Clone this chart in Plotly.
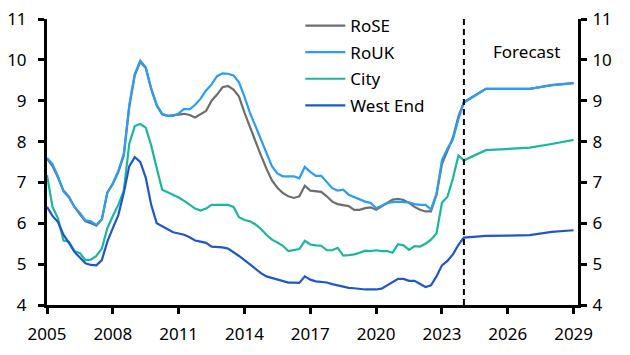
import plotly.graph_objects as go

# ---- Data (quarterly history 2005Q1..2024Q1, then annual forecast) ----
hist_start = 2005.0
n_hist = 77
hist_dates = [hist_start + 0.25 * i for i in range(n_hist)]
forecast_years = [2025, 2026, 2027, 2028, 2029]

rose_hist = [7.58, 7.40, 7.12, 6.80, 6.65, 6.40, 6.22, 6.05, 6.00, 5.94, 6.10, 6.75,
             6.96, 7.25, 7.66, 8.85, 9.62, 9.95, 9.80, 9.28, 8.88, 8.66, 8.63, 8.64,
             8.66, 8.68, 8.65, 8.59, 8.66, 8.75, 9.00, 9.15, 9.33, 9.36, 9.27, 9.10,
             8.71, 8.35, 7.98, 7.66, 7.34, 7.05, 6.87, 6.74, 6.66, 6.62, 6.66, 6.92,
             6.80, 6.79, 6.77, 6.66, 6.53, 6.47, 6.44, 6.42, 6.33, 6.33, 6.37, 6.39,
             6.33, 6.42, 6.51, 6.58, 6.60, 6.57, 6.50, 6.40, 6.33, 6.29, 6.29, 6.70,
             7.45, 7.80, 8.10, 8.62, 8.97]
rose_fc = [9.29, 9.29, 9.29, 9.38, 9.43]

rouk_hist = [7.60, 7.45, 7.15, 6.78, 6.63, 6.40, 6.25, 6.07, 6.05, 5.96, 6.10, 6.75,
             6.98, 7.28, 7.70, 8.90, 9.65, 9.98, 9.82, 9.30, 8.90, 8.68, 8.63, 8.63,
             8.69, 8.80, 8.79, 8.90, 9.05, 9.25, 9.40, 9.60, 9.67, 9.66, 9.62, 9.45,
             9.10, 8.70, 8.38, 8.05, 7.70, 7.40, 7.22, 7.15, 7.15, 7.15, 7.10, 7.38,
             7.26, 7.16, 7.16, 7.02, 6.86, 6.80, 6.82, 6.70, 6.64, 6.58, 6.53, 6.50,
             6.37, 6.43, 6.49, 6.52, 6.53, 6.52, 6.51, 6.47, 6.45, 6.45, 6.34, 6.72,
             7.55, 7.83, 8.05, 8.55, 8.95]
rouk_fc = [9.29, 9.29, 9.29, 9.38, 9.43]

city_hist = [7.18, 6.40, 6.12, 5.58, 5.55, 5.32, 5.27, 5.10, 5.11, 5.20, 5.38, 5.88,
             6.18, 6.45, 6.80, 7.95, 8.38, 8.43, 8.34, 7.90, 7.35, 6.82, 6.76, 6.70,
             6.63, 6.55, 6.45, 6.36, 6.31, 6.36, 6.45, 6.45, 6.46, 6.45, 6.40, 6.15,
             6.08, 6.05, 5.97, 5.86, 5.72, 5.60, 5.53, 5.45, 5.32, 5.35, 5.37, 5.57,
             5.48, 5.46, 5.45, 5.34, 5.34, 5.40, 5.21, 5.22, 5.24, 5.28, 5.33, 5.32,
             5.34, 5.32, 5.32, 5.28, 5.49, 5.46, 5.35, 5.44, 5.43, 5.50, 5.60, 5.75,
             6.50, 6.65, 7.10, 7.66, 7.54]
city_fc = [7.79, 7.82, 7.85, 7.94, 8.04]

we_hist = [6.40, 6.18, 6.03, 5.72, 5.52, 5.30, 5.16, 5.02, 4.98, 4.97, 5.10, 5.55,
           5.88, 6.20, 6.75, 7.40, 7.62, 7.50, 7.12, 6.45, 6.00, 5.92, 5.85, 5.78,
           5.75, 5.72, 5.66, 5.58, 5.55, 5.52, 5.43, 5.42, 5.41, 5.38, 5.30, 5.20,
           5.10, 4.99, 4.88, 4.78, 4.70, 4.66, 4.62, 4.59, 4.55, 4.55, 4.54, 4.70,
           4.62, 4.58, 4.56, 4.55, 4.51, 4.48, 4.45, 4.42, 4.41, 4.39, 4.38, 4.38,
           4.38, 4.40, 4.48, 4.56, 4.64, 4.64, 4.59, 4.59, 4.52, 4.44, 4.48, 4.70,
           4.97, 5.08, 5.24, 5.47, 5.65]
we_fc = [5.69, 5.70, 5.71, 5.79, 5.83]

series_names = ["RoSE", "RoUK", "City", "West End"]
series_colors = ["#6e6e6e", "#2a9df4", "#1ab7a0", "#1f57c8"]
series_values = [rose_hist + rose_fc, rouk_hist + rouk_fc,
                 city_hist + city_fc, we_hist + we_fc]
x_all = hist_dates + forecast_years
forecast_start = hist_dates[-1]

y_ticks = [4, 5, 6, 7, 8, 9, 10, 11]
x_ticks = [2005, 2008, 2011, 2014, 2017, 2020, 2023, 2026, 2029]

FONT = "Noto Sans"

fig = go.Figure()
for name, color, vals in zip(series_names, series_colors, series_values):
    fig.add_trace(go.Scatter(x=x_all, y=vals, mode="lines", name=name,
                             legendgroup=name,
                             line=dict(color=color, width=2.2)))

# invisible trace to activate right axis
fig.add_trace(go.Scatter(x=[x_all[0]], y=[y_ticks[0]], yaxis="y2", mode="lines",
                         showlegend=False, hoverinfo="skip",
                         line=dict(color="rgba(0,0,0,0)")))

axis_common = dict(showgrid=False, zeroline=False, showline=True, linecolor="black",
                   linewidth=3, ticks="outside", ticklen=6, tickwidth=2.5,
                   tickcolor="black", automargin=False, ticklabeloverflow="allow",
                   tickfont=dict(family=FONT, size=17, color="black"))

# page body has an 8px margin, so the figure is 8px smaller than the window
fig.update_layout(
    width=622, height=347,
    margin=dict(l=39, r=52, t=11, b=50, autoexpand=False),
    paper_bgcolor="white", plot_bgcolor="white",
    font=dict(family=FONT, size=17, color="black"),
    xaxis=dict(range=[2005, 2029.2], tickvals=x_ticks, ticklabelstandoff=6,
               **axis_common),
    yaxis=dict(range=[4, 11], tickvals=y_ticks, ticklabelstandoff=8, **axis_common),
    yaxis2=dict(range=[4, 11], tickvals=y_ticks, overlaying="y", side="right",
                ticklabelstandoff=2, **axis_common),
    legend=dict(xref="container", yref="container", x=0.47, y=1.017,
                xanchor="left", yanchor="top",
                bgcolor="rgba(0,0,0,0)", font=dict(family=FONT, size=17),
                tracegroupgap=1.5, itemwidth=40),
    showlegend=True,
    shapes=[dict(type="line", xref="x", yref="paper", x0=forecast_start,
                 x1=forecast_start, y0=0, y1=1.01,
                 line=dict(color="black", width=2, dash="6px,4px"))],
    annotations=[dict(x=2026.85, y=10.2, xref="x", yref="y", text="Forecast",
                      showarrow=False, font=dict(family=FONT, size=17, color="black"))],
)

fig.write_html("out.html")
